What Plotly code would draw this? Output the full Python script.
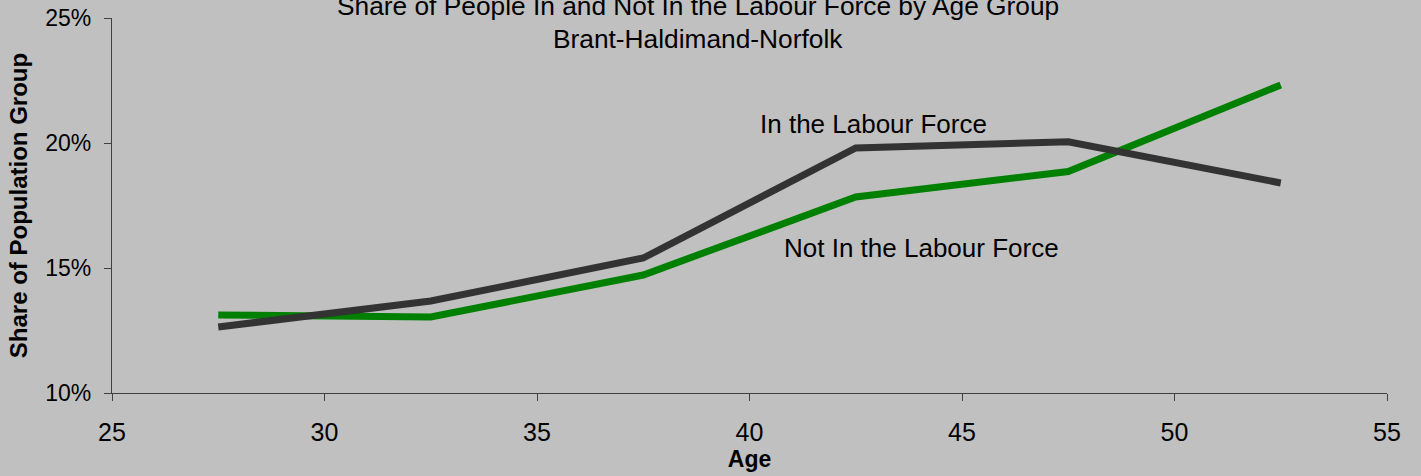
import plotly.graph_objects as go

ages = [27.5, 32.5, 37.5, 42.5, 47.5, 52.5]
in_labour_force = [12.64, 13.68, 15.40, 19.80, 20.05, 18.40]
not_in_labour_force = [13.12, 13.04, 14.72, 17.84, 18.86, 22.32]

title_line1 = "Share of People In and Not In the Labour Force by Age Group"
title_line2 = "Brant-Haldimand-Norfolk"
label_in = "In the Labour Force"
label_not = "Not In the Labour Force"
x_ticks = [25, 30, 35, 40, 45, 50, 55]
y_ticks = [10, 15, 20, 25]

BG = "#C0C0C0"
FONT = "Liberation Sans, Arial, sans-serif"
W, H = 1421, 476
L, R, T, B = 112, 34, 18, 83
PW, PH = W - L - R, H - T - B


def px_x(p):
    return (p - L) / PW


def px_y(p):
    return (H - B - p) / PH


fig = go.Figure()
fig.add_trace(go.Scatter(x=ages, y=not_in_labour_force, mode="lines",
                         line=dict(color="#008000", width=7), name=label_not,
                         showlegend=False))
fig.add_trace(go.Scatter(x=ages, y=in_labour_force, mode="lines",
                         line=dict(color="#333333", width=7), name=label_in,
                         showlegend=False))

for txt, cx, cy, sz in [(title_line1, 697.5, 6, 26.3), (title_line2, 697.5, 39, 26.3),
                        (label_in, 873.5, 124, 26), (label_not, 921, 248, 26)]:
    fig.add_annotation(x=px_x(cx), y=px_y(cy), xref="paper", yref="paper", text=txt,
                       showarrow=False, font=dict(family=FONT, size=sz, color="#000"),
                       xanchor="center", yanchor="middle")

fig.update_layout(
    width=W, height=H,
    margin=dict(l=L, r=R, t=T, b=B, autoexpand=False),
    paper_bgcolor=BG, plot_bgcolor=BG,
    font=dict(family=FONT, color="#000"),
    showlegend=False,
)
fig.update_xaxes(
    range=[25, 55], tickvals=x_ticks, ticktext=[str(v) for v in x_ticks],
    showgrid=False, zeroline=False, showline=True, linecolor="#404040", linewidth=1.3,
    ticks="outside", ticklen=7, tickcolor="#404040", tickwidth=1,
    tickfont=dict(size=25, family=FONT), ticklabelstandoff=10,
    title=dict(text="<b>Age</b>", font=dict(size=23, family=FONT), standoff=4),
)
fig.update_yaxes(
    range=[10, 25], tickvals=y_ticks, ticktext=[f"{v}%" for v in y_ticks],
    showgrid=False, zeroline=False, showline=True, linecolor="#404040", linewidth=1.3,
    ticks="outside", ticklen=7, tickcolor="#404040", tickwidth=1,
    tickfont=dict(size=23, family=FONT), ticklabelstandoff=8,
    title=dict(text="<b>Share of Population Group</b>", font=dict(size=24, family=FONT), standoff=10),
)

fig.write_html(
    "out.html",
    config={"displayModeBar": False},
    post_script="document.body.style.margin='0';document.body.style.background='#C0C0C0';",
)
